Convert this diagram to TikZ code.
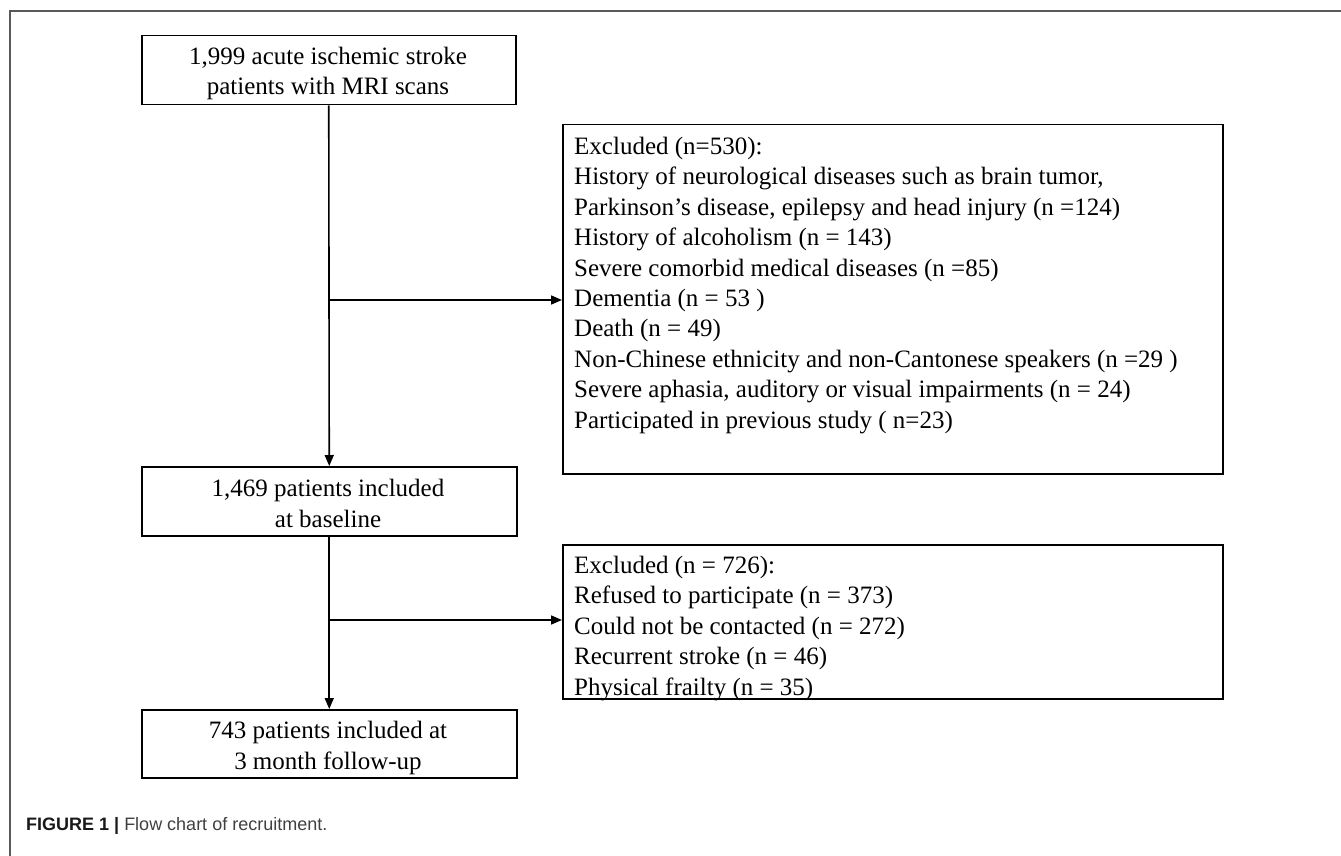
\documentclass[tikz,border=0pt]{standalone}
\usepackage{fontspec}
\setmainfont{Liberation Serif}
\newfontfamily\capfont{Liberation Sans}
\usetikzlibrary{arrows.meta}
\begin{document}
\begin{tikzpicture}[x=1pt,y=-1pt,
  boxshape/.style={draw, line width=1.5pt, inner sep=0pt},
  boxtext/.style={inner sep=0pt, font=\fontsize{25}{30.4}\selectfont},
  flow/.style={line width=1.6pt, -{Triangle[length=11pt,width=9pt]}},
  link/.style={line width=1.6pt}]
\useasboundingbox (0,0) rectangle (1341,856);
\draw[line width=1.6pt, black!65] (10,856) coordinate (fbl) -- (10,11) coordinate (ftl) -- (1341,11) coordinate (ftr);

% boxes
\node[boxshape, anchor=north west, minimum width=374pt, minimum height=69pt] (b1) at (141,35) {};
\node[boxshape, anchor=north west, minimum width=660pt, minimum height=349pt] (b2) at (562,124) {};
\node[boxshape, anchor=north west, minimum width=375pt, minimum height=69pt] (b3) at (141,466) {};
\node[boxshape, anchor=north west, minimum width=660pt, minimum height=154pt] (b4) at (562,544) {};
\node[boxshape, anchor=north west, minimum width=375pt, minimum height=68pt] (b5) at (141,709) {};

% texts (anchor = baseline of last line)
\node[boxtext, anchor=base, align=center] (t1) at (328,95) {1,999 acute ischemic stroke\\patients with MRI scans};
\node[boxtext, anchor=base west, align=left] (t2) at (574,428) {Excluded (n=530):\\
History of neurological diseases such as brain tumor,\\
Parkinson’s disease, epilepsy and head injury (n =124)\\
History of alcoholism (n = 143)\\
Severe comorbid medical diseases (n =85)\\
Dementia (n = 53 )\\
Death (n = 49)\\
Non-Chinese ethnicity and non-Cantonese speakers (n =29 )\\
Severe aphasia, auditory or visual impairments (n = 24)\\
Participated in previous study ( n=23)};
\node[boxtext, anchor=base, align=center] (t3) at (328,527) {1,469 patients included\\at baseline};
\node[boxtext, anchor=base west, align=left] (t4) at (574,695) {Excluded (n = 726):\\
Refused to participate (n = 373)\\
Could not be contacted (n = 272)\\
Recurrent stroke (n = 46)\\
Physical frailty (n = 35)};
\node[boxtext, anchor=base, align=center] (t5) at (328,769) {743 patients included at\\3 month follow-up};

% connectors
\draw[flow] (b1.south) -- (b3.north);
\draw[flow] (b3.south) -- (b5.north);
\coordinate (j1) at (b1.south |- 0,300);
\coordinate (j2) at (b3.south |- 0,620);
\draw[flow] (j1) -- (j1 -| b2.west);
\draw[flow] (j2) -- (j2 -| b4.west);

% caption
\node[inner sep=0pt, anchor=base west, font=\capfont\fontsize{18}{22}\selectfont] (cap) at (26,830)
  {\textcolor{black!90}{\bfseries FIGURE 1 |} \textcolor{black!75}{Flow chart of recruitment.}};
\end{tikzpicture}
\end{document}
